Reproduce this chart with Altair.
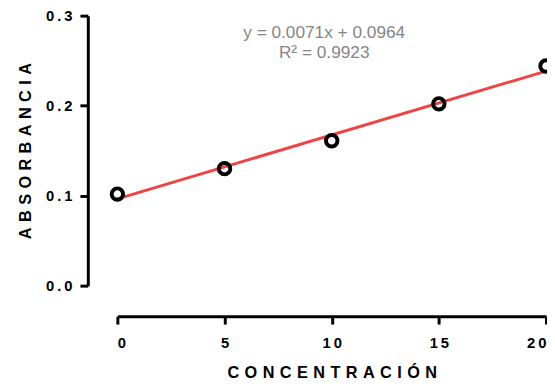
import altair as alt
import pandas as pd

# data
conc = [0, 5, 10, 15, 20]
absorb = [0.1017, 0.130, 0.161, 0.202, 0.244]
slope = 0.0071
intercept = 0.0964
fit_x = [0, 20]
eq_lines = ["y = 0.0071x + 0.0964", "R\u00b2 = 0.9923"]
eq_x = [9.65, 9.65]
eq_y = [0.2807, 0.2586]
x_ticks = [0, 5, 10, 15, 20]
y_ticks = [0.0, 0.1, 0.2, 0.3]

pts = pd.DataFrame({"x": conc, "y": absorb})
fit = pd.DataFrame({"x": fit_x, "y": [intercept + slope * v for v in fit_x]})
eq = pd.DataFrame({"t": eq_lines, "x": eq_x, "y": eq_y})

SP = "\u2004"
xtitle = SP.join(list("CONCENTRACIÓN"))
ytitle = SP.join(list("ABSORBANCIA"))
lab_expr = "join(split(datum.label, ''), '\u2009')"

xs = alt.Scale(domain=[0, 20], nice=False)
ys = alt.Scale(domain=[0, 0.3], nice=False)

xaxis = alt.Axis(values=x_ticks, offset=31, tickSize=8, labelPadding=12, title=xtitle,
                 titlePadding=14, labelExpr=lab_expr, format="d", grid=False)
yaxis = alt.Axis(values=y_ticks, offset=30, tickSize=8, labelPadding=8, title=ytitle,
                 titlePadding=12, labelExpr=lab_expr, format=".1f", grid=False)

line = alt.Chart(fit).mark_line(color="#f04444", strokeWidth=3).encode(
    x=alt.X("x:Q", scale=xs, axis=xaxis),
    y=alt.Y("y:Q", scale=ys, axis=yaxis),
)
points = alt.Chart(pts).mark_point(shape="circle", filled=False, color="black",
                                   strokeWidth=4, size=135, opacity=1).encode(
    x=alt.X("x:Q", scale=xs),
    y=alt.Y("y:Q", scale=ys),
)
text = alt.Chart(eq).mark_text(font="Liberation Sans", fontSize=17.5, color="#858585",
                               baseline="middle", align="center").encode(
    x=alt.X("x:Q", scale=xs),
    y=alt.Y("y:Q", scale=ys),
    text="t:N",
)

chart = alt.layer(line, points, text).properties(
    width=435, height=274,
    background="white",
    autosize=alt.AutoSizeParams(type="none"),
    padding={"left": 111, "top": 5, "right": 1, "bottom": 94},
).configure_view(stroke=None).configure_axis(
    grid=False,
    domainColor="black", domainWidth=3,
    tickColor="black", tickWidth=3,
    labelFont="Liberation Sans", labelFontSize=15, labelFontWeight="bold", labelColor="black",
    titleFont="Liberation Sans", titleFontSize=16.5, titleFontWeight="bold", titleColor="black",
)

chart.save("out.html", embed_options={"renderer": "svg", "actions": False})
